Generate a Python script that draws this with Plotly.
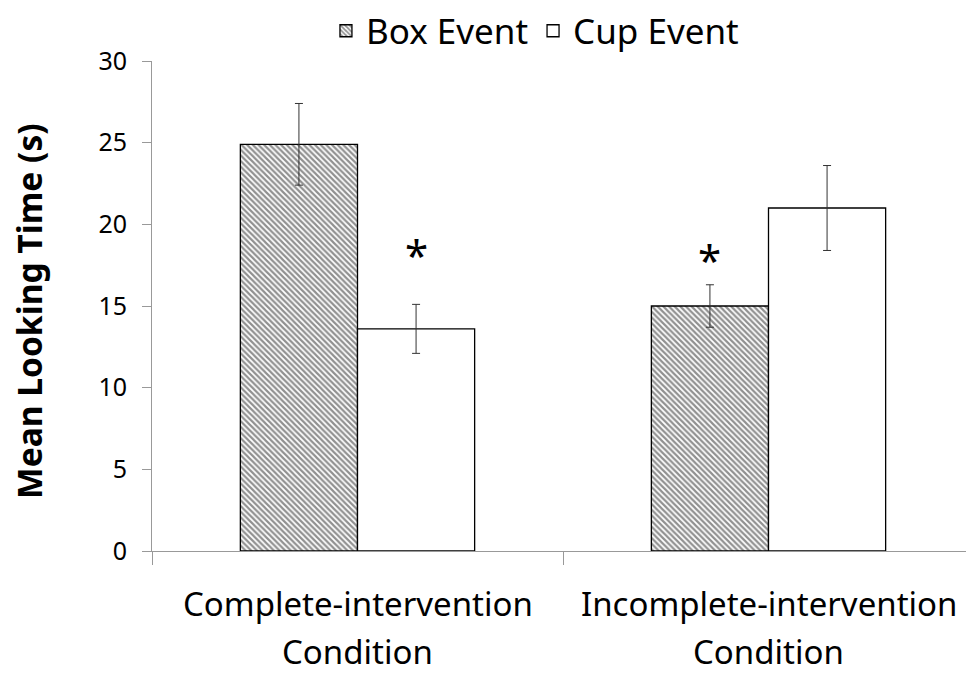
import plotly.graph_objects as go

# data
conditions = ["Complete-intervention", "Incomplete-intervention"]
series_names = ["Box Event", "Cup Event"]
box_means = [24.9, 15.0]
box_err = [2.5, 1.3]
cup_means = [13.6, 21.0]
cup_err = [1.5, 2.6]
star_series = ["Cup Event", "Box Event"]  # which bar gets a "*" in each condition
star_y = [18.5, 18.2]
y_ticks = [0, 5, 10, 15, 20, 25, 30]

FONT = "Noto Sans"

fig = go.Figure()

fig.add_trace(go.Bar(
    name=series_names[0], x=conditions, y=box_means,
    marker=dict(color="white", line=dict(color="black", width=1.3),
                pattern=dict(shape="\\", size=4, solidity=0.55,
                             fgcolor="#222222", bgcolor="white")),
    error_y=dict(type="data", array=box_err, color="#333333", thickness=1, width=4),
))
fig.add_trace(go.Bar(
    name=series_names[1], x=conditions, y=cup_means,
    marker=dict(color="white", line=dict(color="black", width=1.3)),
    error_y=dict(type="data", array=cup_err, color="#333333", thickness=1, width=4),
))

# figure is drawn 8px in from the page corner, so size it to fit the window
fig_w, fig_h = 966, 666
m_l, m_r, m_t, m_b = 144, 0, 53, 123
plot_w = fig_w - m_l - m_r
plot_h = fig_h - m_t - m_b
bargap = 0.43
bar_px = plot_w / len(conditions) * (1 - bargap) / 2

for i, cond in enumerate(conditions):
    shift = -bar_px / 2 if star_series[i] == "Box Event" else bar_px / 2
    fig.add_annotation(x=cond, y=star_y[i], text="*", showarrow=False, xshift=shift,
                       yanchor="middle", yshift=-6,
                       font=dict(family=FONT, size=42, color="black"))

# two-line category labels (wider line spacing than tick labels allow)
for cond in conditions:
    fig.add_annotation(x=cond, y=0, yref="paper", text=cond, showarrow=False,
                       yanchor="middle", yshift=-52,
                       font=dict(family=FONT, size=33, color="black"))
    fig.add_annotation(x=cond, y=0, yref="paper", text="Condition", showarrow=False,
                       yanchor="middle", yshift=-100,
                       font=dict(family=FONT, size=33, color="black"))

# y axis title as an annotation so it can sit right at the left edge
fig.add_annotation(x=0, xref="paper", y=0.488, yref="paper", xanchor="center",
                   yanchor="middle", xshift=-(m_l - 21), textangle=-90,
                   text="<b>Mean Looking Time (s)</b>", showarrow=False,
                   font=dict(family=FONT, size=33.5, color="black"))

fig.update_layout(
    width=fig_w, height=fig_h,
    barmode="group", bargap=bargap, bargroupgap=0,
    plot_bgcolor="white", paper_bgcolor="white",
    margin=dict(l=m_l, r=m_r, t=m_t, b=m_b, autoexpand=False),
    font=dict(family=FONT, color="black"),
    showlegend=True,
    legend=dict(orientation="h", xref="container", x=0.5455, xanchor="center",
                y=1 + (m_t - 23) / plot_h, yanchor="middle",
                font=dict(family=FONT, size=35), itemwidth=30,
                traceorder="normal", bgcolor="rgba(0,0,0,0)"),
)
fig.update_xaxes(
    showline=True, linecolor="#999999", linewidth=1,
    ticks="outside", tickson="boundaries", ticklen=13, tickcolor="#999999",
    showticklabels=False, showgrid=False,
)
fig.update_yaxes(
    range=[0, 30], tickvals=y_ticks,
    showline=True, linecolor="#999999", linewidth=1,
    ticks="outside", ticklen=9, tickcolor="#999999", ticklabelstandoff=10,
    tickfont=dict(family=FONT, size=25, color="black"),
    showgrid=False, zeroline=False,
)

fig.write_html("out.html")
